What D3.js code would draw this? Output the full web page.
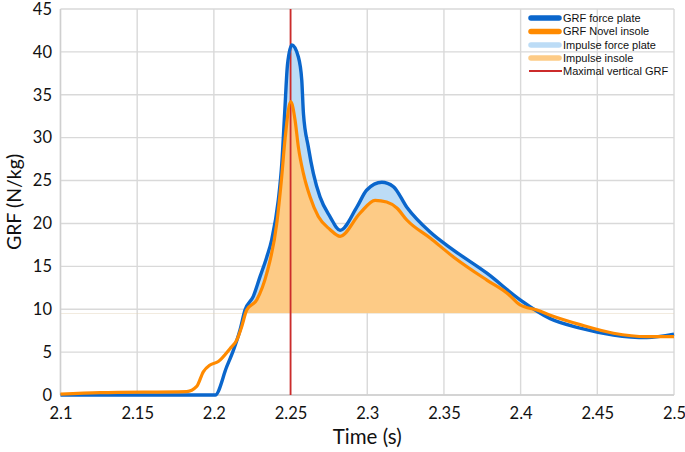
<!DOCTYPE html>
<html>
<head>
<meta charset="utf-8">
<script src="https://cdn.jsdelivr.net/npm/d3@7"></script>
<style>
  html, body { margin: 0; padding: 0; background: #fff; }
  svg { display: block; }
</style>
</head>
<body>
<svg id="chart" width="685" height="452"></svg>
<script>
// ---- data ----
const plateTime = [2.100, 2.2008, 2.2084, 2.2127, 2.2171, 2.2203, 2.2257, 2.2301, 2.2345, 2.2377, 2.2420, 2.2443, 2.2462, 2.2480, 2.2508, 2.2551, 2.2573, 2.2584, 2.2616, 2.2649, 2.2692, 2.2757, 2.2823, 2.2932, 2.2997, 2.3095, 2.3170, 2.3258, 2.3410, 2.3562, 2.3780, 2.3997, 2.4193, 2.4388, 2.4605, 2.4823, 2.5000];
const plateGRF  = [0.0,   0.0,    3.3,    5.2,    7.6,    9.9,    11.5,   13.8,   16.1,   18.1,   22.7,   27.0,   33.0,   38.5,   40.8,   39.4,   36.7,   32.8,   28.9,   25.8,   23.1,   20.8,   19.2,   21.9,   23.9,   24.8,   24.3,   21.9,   19.0,   16.9,   14.2,   11.1,   8.9,    7.8,    7.0,    6.7,    7.1];

const insoleTime = [2.100, 2.1258, 2.1823, 2.1888, 2.1931, 2.1975, 2.2029, 2.2105, 2.2149, 2.2182, 2.2214, 2.2280, 2.2345, 2.2410, 2.2440, 2.2465, 2.2501, 2.2529, 2.2551, 2.2584, 2.2627, 2.2681, 2.2757, 2.2823, 2.2953, 2.3051, 2.3127, 2.3193, 2.3258, 2.3410, 2.3562, 2.3780, 2.3910, 2.3997, 2.4106, 2.4193, 2.4388, 2.4605, 2.4823, 2.5000];
const insoleGRF  = [0.1,   0.27,   0.4,    1.0,    2.7,    3.5,    3.9,    5.4,    6.4,    8.0,    9.9,    11.1,   14.2,   20.0,   25.0,   30.0,   34.2,   32.1,   28.9,   25.8,   23.1,   20.8,   19.3,   18.5,   21.2,   22.7,   22.5,   21.8,   20.4,   18.3,   16.1,   13.4,   11.9,   10.5,   9.9,    9.3,    8.2,    7.2,    6.8,    6.8];

const impulseBase = 9.5;      // N/kg, lower bound of the impulse areas
const peakTime = 2.25;        // maximal vertical GRF

const xTicks = [2.1, 2.15, 2.2, 2.25, 2.3, 2.35, 2.4, 2.45, 2.5];
const xTickLabels = ["2.1", "2.15", "2.2", "2.25", "2.3", "2.35", "2.4", "2.45", "2.5"];
const yTicks = [0, 5, 10, 15, 20, 25, 30, 35, 40, 45];

const legendLabels = ["GRF force plate", "GRF Novel insole", "Impulse force plate", "Impulse insole", "Maximal vertical GRF"];
const legendColors = ["#0a66cc", "#ff8a00", "#bcdcf6", "#fdcb86", "#cc2b2b"];

// ---- layout ----
const W = 685, H = 452;
const margin = { left: 60.5, right: 11, top: 9, bottom: 57 };
const svg = d3.select("#chart");

const x = d3.scaleLinear().domain([2.1, 2.5]).range([margin.left, W - margin.right]);
const y = d3.scaleLinear().domain([0, 45]).range([H - margin.bottom, margin.top]);

const plate = plateTime.map((t, i) => ({ t, v: plateGRF[i] }));
const insole = insoleTime.map((t, i) => ({ t, v: insoleGRF[i] }));

// grid
const grid = svg.append("g");
grid.selectAll("line.h").data(yTicks).join("line")
  .attr("x1", x(2.1)).attr("x2", x(2.5))
  .attr("y1", d => y(d)).attr("y2", d => y(d))
  .attr("stroke", "#d9d9d9").attr("stroke-width", 1.4);
grid.selectAll("line.v").data(xTicks).join("line")
  .attr("x1", d => x(d)).attr("x2", d => x(d))
  .attr("y1", y(0)).attr("y2", y(45))
  .attr("stroke", "#d9d9d9").attr("stroke-width", 1.4);

// clip for impulse areas (above base line)
svg.append("clipPath").attr("id", "aboveBase")
  .append("rect")
  .attr("x", x(2.1)).attr("y", y(45))
  .attr("width", x(2.5) - x(2.1)).attr("height", y(impulseBase) - y(45));

const curve = d3.curveMonotoneX;
const area = d3.area().x(d => x(d.t)).y0(y(impulseBase)).y1(d => y(d.v)).curve(curve);
const line = d3.line().x(d => x(d.t)).y(d => y(d.v)).curve(curve);

svg.append("path").datum(plate).attr("d", area)
  .attr("fill", legendColors[2]).attr("clip-path", "url(#aboveBase)");
svg.append("path").datum(insole).attr("d", area)
  .attr("fill", legendColors[3]).attr("clip-path", "url(#aboveBase)");

// axes lines
svg.append("line").attr("x1", x(2.1)).attr("x2", x(2.1)).attr("y1", y(0)).attr("y2", y(45))
  .attr("stroke", "#cfcfcf").attr("stroke-width", 1.4);
svg.append("line").attr("x1", x(2.1)).attr("x2", x(2.5)).attr("y1", y(0)).attr("y2", y(0))
  .attr("stroke", "#cfcfcf").attr("stroke-width", 1.4);

// red vertical line
svg.append("line").attr("x1", x(peakTime)).attr("x2", x(peakTime))
  .attr("y1", y(0)).attr("y2", y(45))
  .attr("stroke", legendColors[4]).attr("stroke-width", 1.8);

// GRF lines
svg.append("path").datum(plate).attr("d", line)
  .attr("fill", "none").attr("stroke", legendColors[0]).attr("stroke-width", 3.4)
  .attr("stroke-linejoin", "round");
svg.append("path").datum(insole).attr("d", line)
  .attr("fill", "none").attr("stroke", legendColors[1]).attr("stroke-width", 3.2)
  .attr("stroke-linejoin", "round");

// axis tick labels via d3 axes
const font = "Lato, 'Open Sans', sans-serif";
const xAxis = d3.axisBottom(x).tickValues(xTicks).tickFormat((d, i) => xTickLabels[i]).tickSize(0).tickPadding(12);
const gx = svg.append("g").attr("transform", `translate(0,${y(0)})`).call(xAxis);
gx.select(".domain").remove();
gx.selectAll("text").attr("font-family", font).attr("font-size", 16.5).attr("fill", "#111");

const yAxis = d3.axisLeft(y).tickValues(yTicks).tickSize(0).tickPadding(8.5);
const gy = svg.append("g").attr("transform", `translate(${x(2.1)},0)`).call(yAxis);
gy.select(".domain").remove();
gy.selectAll("text").attr("font-family", font).attr("font-size", 16.5).attr("fill", "#111");

// axis titles
svg.append("text").attr("x", (x(2.1) + x(2.5)) / 2).attr("y", 444)
  .attr("text-anchor", "middle").attr("font-family", font).attr("font-size", 20.5).attr("fill", "#111")
  .text("Time (s)");
svg.append("text").attr("transform", `translate(21,${(y(0) + y(45)) / 2}) rotate(-90)`)
  .attr("text-anchor", "middle").attr("font-family", font).attr("font-size", 19.5).attr("fill", "#111")
  .text("GRF (N/kg)");

// legend
const legendY = [18, 31.5, 45, 58, 71];
const lg = svg.append("g");
legendLabels.forEach((lab, i) => {
  const thick = i < 4;
  lg.append("line").attr("x1", thick ? 531 : 529).attr("x2", thick ? 559 : 562)
    .attr("y1", legendY[i]).attr("y2", legendY[i])
    .attr("stroke", legendColors[i]).attr("stroke-width", thick ? 5.5 : 1.8)
    .attr("stroke-linecap", thick ? "round" : "butt");
  lg.append("text").attr("x", 563).attr("y", legendY[i]).attr("dy", "0.35em")
    .attr("font-family", "'Liberation Sans', Arial, sans-serif").attr("font-size", 11)
    .attr("fill", "#111").text(lab);
});
</script>
</body>
</html>
